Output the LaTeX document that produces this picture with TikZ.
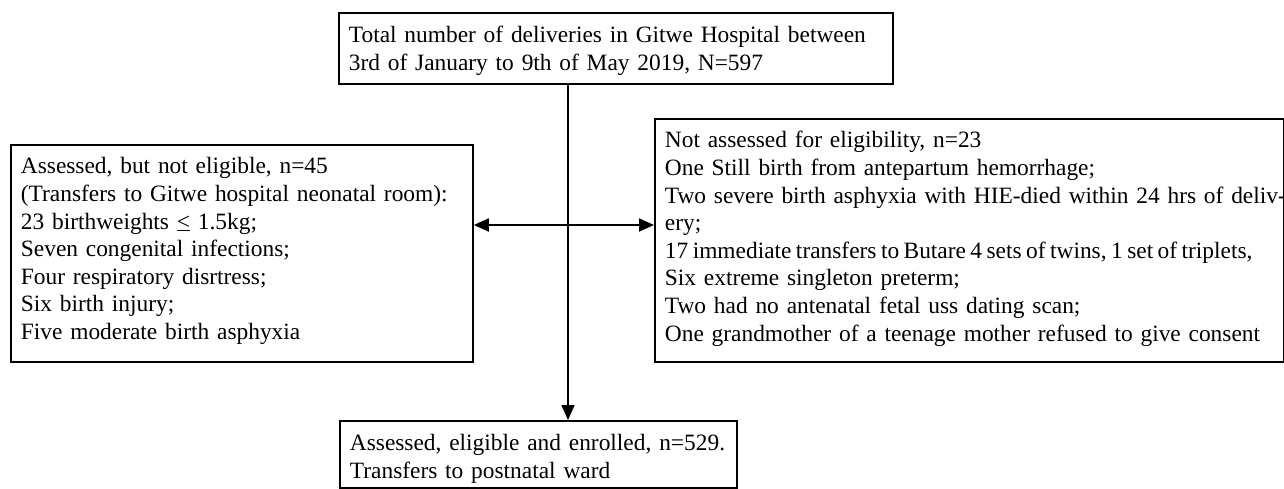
\documentclass[tikz,border=0pt]{standalone}
\usepackage{fontspec}
\setmainfont{Liberation Serif}
\usetikzlibrary{arrows.meta}
\begin{document}
\begin{tikzpicture}[x=1pt,y=-1pt,
  box/.style={draw, line width=1.8pt, anchor=north west, inner xsep=10pt, inner ysep=0pt,
    align=left, font=\fontsize{23.4pt}{27.6pt}\selectfont},
  conn/.style={line width=1.8pt, -{Triangle[length=15pt,width=13pt]}},
  biconn/.style={line width=1.8pt, {Triangle[length=15pt,width=13pt]}-{Triangle[length=15pt,width=13pt]}},
]
\useasboundingbox (0,0) rectangle (1284,488);
\node[box, text width=534pt] (top) at (338,12)
  {\rule{0pt}{30pt}\mbox{Total number of deliveries in Gitwe Hospital between}\\
   \mbox{3rd of January to 9th of May 2019, N=597}\rule[-13.4pt]{0pt}{13.4pt}};
\node[box, text width=442pt] (left) at (10,144)
  {\rule{0pt}{29pt}\mbox{Assessed, but not eligible, n=45}\\
   \mbox{(Transfers to Gitwe hospital neonatal room):}\\
   \mbox{23 birthweights \underline{<} 1.5kg;}\\
   \mbox{Seven congenital infections;}\\
   \mbox{Four respiratory disrtress;}\\
   \mbox{Six birth injury;}\\
   \mbox{Five moderate birth asphyxia}\rule[-22.4pt]{0pt}{22.4pt}};
\node[box, text width=608.5pt] (right) at (654,118)
  {\rule{0pt}{29pt}\mbox{Not assessed for eligibility, n=23}\\
   \mbox{One Still birth from antepartum hemorrhage;}\\
   \mbox{Two severe birth asphyxia with HIE-died within 24 hrs of deliv-}\\
   \mbox{ery;}\\
   \mbox{\spaceskip=0.19em\relax 17 immediate transfers to Butare 4 sets of twins, 1 set of triplets,}\\
   \mbox{Six extreme singleton preterm;}\\
   \mbox{Two had no antenatal fetal uss dating scan;}\\
   \mbox{One grandmother of a teenage mother refused to give consent}\rule[-20.8pt]{0pt}{20.8pt}};
\node[box, text width=377pt] (bottom) at (339,420)
  {\rule{0pt}{30pt}\mbox{Assessed, eligible and enrolled, n=529.}\\
   \mbox{Transfers to postnatal ward}\rule[-9.4pt]{0pt}{9.4pt}};
\coordinate (vx) at (568,0);
\coordinate (hy) at (0,225);
\draw[conn] (top.south -| vx) -- (bottom.north -| vx);
\draw[biconn] (left.east |- hy) -- (right.west |- hy);
\end{tikzpicture}
\end{document}
